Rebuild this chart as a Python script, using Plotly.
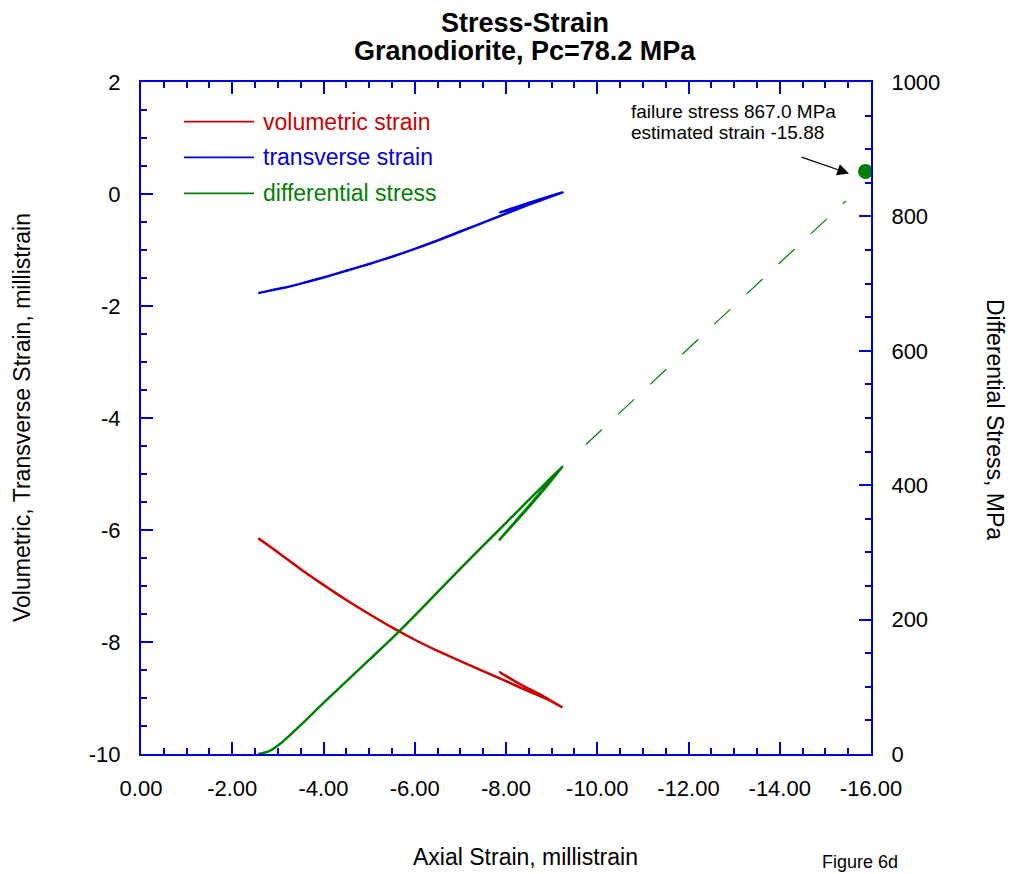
import plotly.graph_objects as go

# Axial strain (millistrain): loading, unloading loop, reloading
axial_strain = [-2.57, -2.80, -3.10, -3.50, -4.00, -4.50, -5.00, -5.50, -6.00, -6.50,
                -7.00, -7.50, -8.00, -8.50, -9.00, -9.24, -9.00, -8.50, -7.86, -8.30,
                -8.80, -9.24]
# Differential stress (MPa)
diff_stress = [0, 4, 18, 43, 76, 108, 140, 172, 206, 241,
               276, 310, 344, 378, 412, 428, 409, 369, 319, 352,
               391, 428]
# Transverse strain (millistrain)
transverse_strain = [-1.77, -1.73, -1.68, -1.60, -1.49, -1.37, -1.25, -1.12, -0.98, -0.83,
                     -0.67, -0.51, -0.35, -0.19, -0.04, 0.03, -0.03, -0.16, -0.33, -0.23,
                     -0.10, 0.03]
# Volumetric strain (millistrain)
volumetric_strain = [-6.15, -6.28, -6.46, -6.70, -6.98, -7.25, -7.50, -7.74, -7.96, -8.16,
                     -8.34, -8.52, -8.70, -8.88, -9.06, -9.17, -9.06, -8.84, -8.54, -8.75,
                     -8.96, -9.17]

# Extrapolation toward failure
extrap_strain = [-9.24, -15.45]
extrap_stress = [428, 823]
failure_strain = -15.88
failure_stress = 867.0

# Tick labels
x_tick_vals = [0, -2, -4, -6, -8, -10, -12, -14, -16]
x_tick_text = ["0.00", "-2.00", "-4.00", "-6.00", "-8.00", "-10.00", "-12.00", "-14.00", "-16.00"]
y_tick_vals = [-10, -8, -6, -4, -2, 0, 2]
y_tick_text = ["-10", "-8", "-6", "-4", "-2", "0", "2"]
y2_tick_vals = [0, 200, 400, 600, 800, 1000]
y2_tick_text = ["0", "200", "400", "600", "800", "1000"]

legend_names = ["volumetric strain", "transverse strain", "differential stress"]

FONT = "Liberation Sans, Arial, sans-serif"
RED = "#cc0000"
BLUE = "#0000dd"
GREEN = "#008000"
AXIS = "#0000dd"

fig = go.Figure()

curve = dict(shape="spline", smoothing=0.6, width=2.5)
fig.add_trace(go.Scatter(x=axial_strain, y=volumetric_strain, mode="lines",
                         line=dict(color=RED, **curve), showlegend=False))
fig.add_trace(go.Scatter(x=axial_strain, y=transverse_strain, mode="lines",
                         line=dict(color=BLUE, **curve), showlegend=False))
fig.add_trace(go.Scatter(x=axial_strain, y=diff_stress, mode="lines", yaxis="y2",
                         line=dict(color=GREEN, **curve), showlegend=False))
fig.add_trace(go.Scatter(x=extrap_strain, y=extrap_stress, mode="lines", yaxis="y2",
                         line=dict(color=GREEN, width=1.2,
                                   dash="0px,32px" + ",22px,22px" * 10),
                         showlegend=False))
fig.add_trace(go.Scatter(x=[failure_strain], y=[failure_stress], mode="markers", yaxis="y2",
                         marker=dict(color=GREEN, size=15), cliponaxis=False,
                         showlegend=False))

L, R, T, B = 141, 141, 82, 120
W, H = 1012, 874
PW, PH = W - L - R, H - T - B


def px(xp):
    return (xp - L) / PW


def py(yp):
    return (H - B - yp) / PH


tick_common = dict(ticks="inside", tickcolor=AXIS, tickwidth=2, ticklen=12,
                   showline=True, linecolor=AXIS, linewidth=2,
                   showgrid=False, zeroline=False,
                   tickfont=dict(family=FONT, size=22, color="black"))

fig.update_layout(
    width=W, height=H, autosize=False,
    margin=dict(l=L, r=R, t=T, b=B, pad=0),
    paper_bgcolor="white", plot_bgcolor="white",
    xaxis=dict(range=[0, -16], tickmode="array", tickvals=x_tick_vals, ticktext=x_tick_text,
               mirror="ticks", ticklabelstandoff=14,
               minor=dict(tickmode="linear", tick0=0, dtick=0.5, ticks="inside",
                          ticklen=6, tickcolor=AXIS, tickwidth=2),
               **tick_common),
    yaxis=dict(range=[-10, 2], tickmode="array", tickvals=y_tick_vals, ticktext=y_tick_text,
               ticklabelstandoff=14,
               minor=dict(tickmode="linear", tick0=0, dtick=0.5, ticks="inside",
                          ticklen=6, tickcolor=AXIS, tickwidth=2),
               **tick_common),
    yaxis2=dict(range=[0, 1000], overlaying="y", side="right", tickmode="array",
                tickvals=y2_tick_vals, ticktext=y2_tick_text, ticklabelstandoff=14,
                minor=dict(tickmode="linear", tick0=0, dtick=50, ticks="inside",
                           ticklen=6, tickcolor=AXIS, tickwidth=2),
                **tick_common),
)

annotations = [
    dict(text="<b>Stress-Strain</b>", x=px(525), y=py(23), font=dict(size=27)),
    dict(text="<b>Granodiorite, Pc=78.2 MPa</b>", x=px(525), y=py(51), font=dict(size=27)),
    dict(text="Axial Strain, millistrain", x=px(525), y=py(857), font=dict(size=23)),
    dict(text="Figure 6d", x=px(860), y=py(862), font=dict(size=18)),
    dict(text="Volumetric, Transverse Strain, millistrain", x=px(22), y=py(418),
         textangle=-90, font=dict(size=23)),
    dict(text="Differential Stress, MPa", x=px(995), y=py(419),
         textangle=90, font=dict(size=23)),
    dict(text=f"failure stress {failure_stress:.1f} MPa", x=px(629), y=py(112),
         xanchor="left", font=dict(size=19)),
    dict(text=f"estimated strain {failure_strain:.2f}", x=px(629), y=py(133),
         xanchor="left", font=dict(size=19)),
]
for a in annotations:
    a.setdefault("xanchor", "center")
    fig.add_annotation(xref="paper", yref="paper", showarrow=False, yanchor="middle",
                       font=dict(family=FONT, color="black", size=a.pop("font")["size"]), **a)

# Arrow pointing at the failure point
fig.add_annotation(xref="paper", yref="paper", x=px(849), y=py(173.5), text="",
                   showarrow=True, axref="pixel", ayref="pixel", ax=-49, ay=-17,
                   arrowhead=2, arrowsize=1.8, arrowwidth=1.3, arrowcolor="black")

# Legend drawn as line samples with coloured labels
legend_colors = [RED, BLUE, GREEN]
legend_y = [121.7, 157.3, 193.3]
for name, col, yy in zip(legend_names, legend_colors, legend_y):
    fig.add_shape(type="line", xref="paper", yref="paper", x0=px(184), x1=px(254),
                  y0=py(yy), y1=py(yy), line=dict(color=col, width=1.8))
    fig.add_annotation(xref="paper", yref="paper", x=px(261), y=py(yy), text=name,
                       showarrow=False, xanchor="left", yanchor="middle",
                       font=dict(family=FONT, size=23, color=col))

fig.write_html("out.html")
